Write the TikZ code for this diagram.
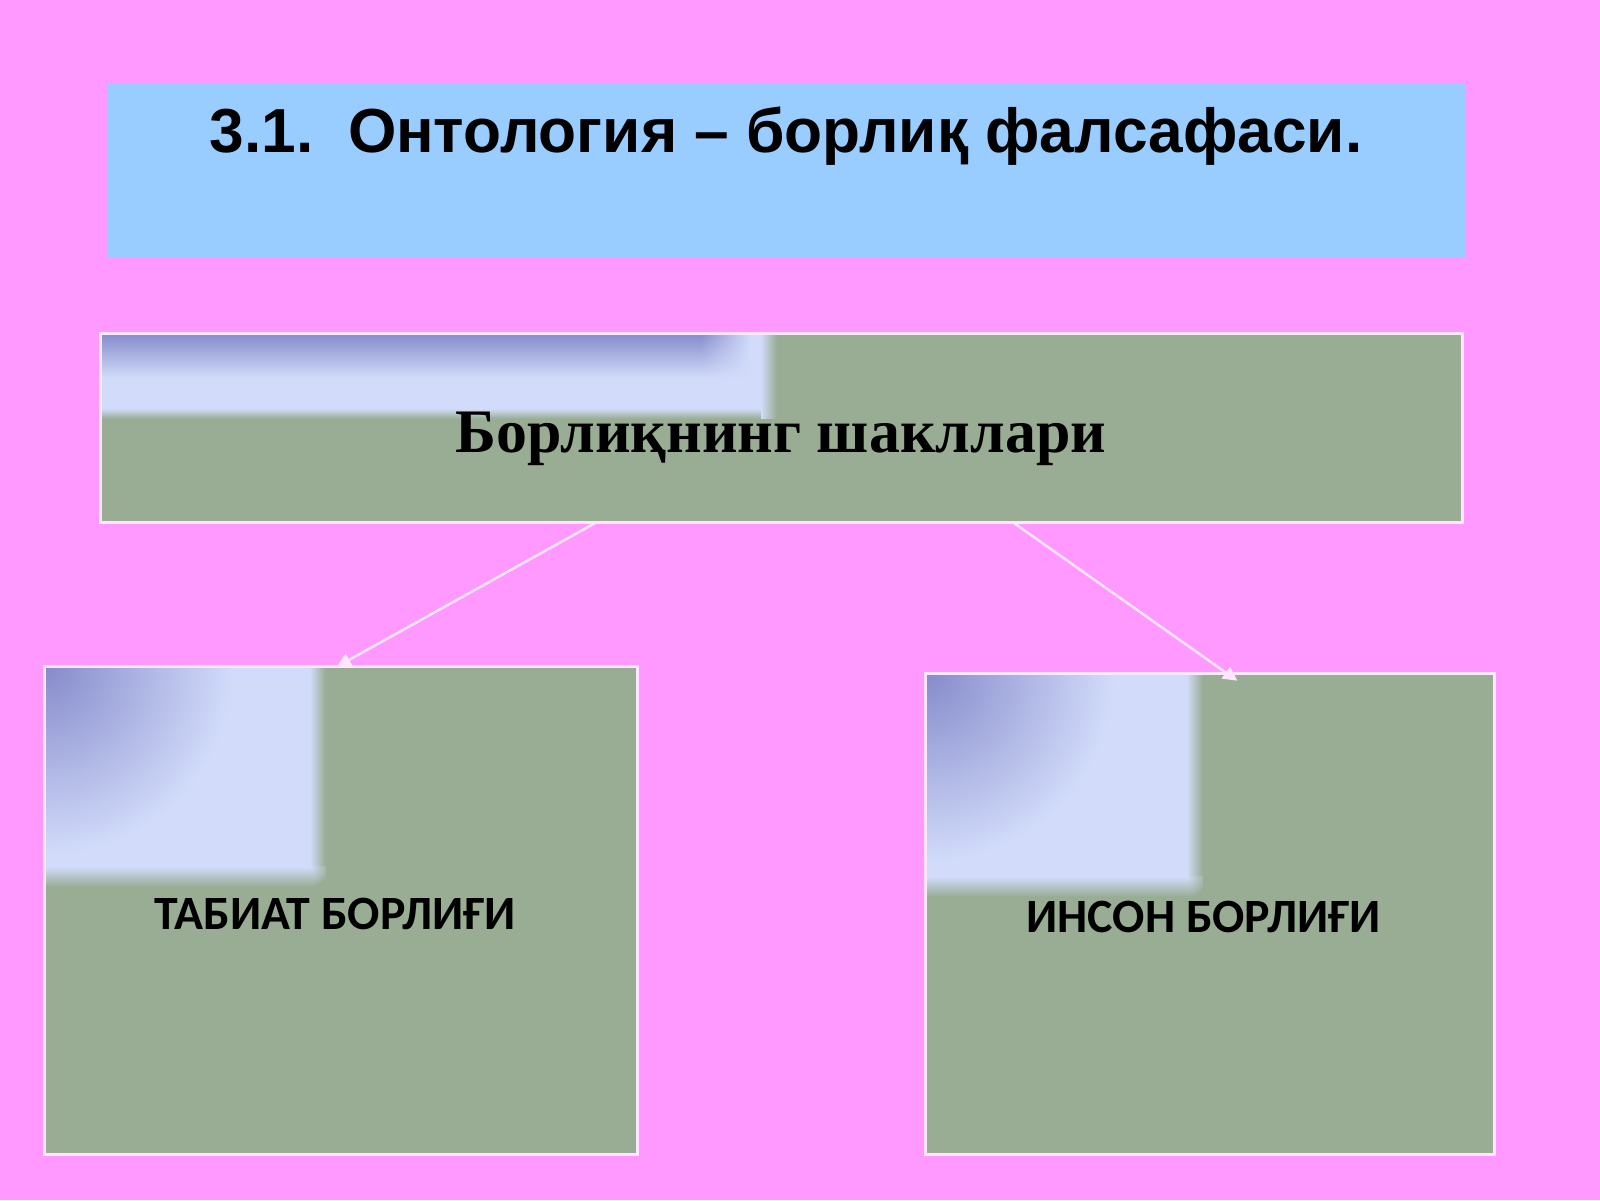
\documentclass[tikz,border=0pt]{standalone}
\usepackage{fontspec}
\setmainfont{Liberation Serif}
\newfontfamily\headfont{Liberation Sans}
\newfontfamily\boxfont{Carlito}
\usetikzlibrary{positioning,arrows.meta,calc,fadings}
\definecolor{slidepink}{HTML}{FF99FF}
\definecolor{skyblue}{HTML}{99CCFF}
\definecolor{sage}{HTML}{98AD94}
\definecolor{lilacpale}{HTML}{D2DCFA}
\definecolor{lilacdeep}{HTML}{868BCB}
\tikzset{every picture/.style={line width=0.75pt}}
\tikzset{
  formbox/.style={fill=sage, inner sep=0pt},
  boxline/.style={draw=white!75!slidepink, line width=0.8pt},
  link/.style={-{Triangle[length=4pt,width=4pt]}, color=white!75!slidepink, line width=0.7pt},
}
% lilac corner patch: #1 box node, #2 width, #3 height
\newcommand\lilac[3]{%
  \fill[lilacpale] (#1.north west) rectangle ++({#2-0.16},{-#3+0.2});
  \fill[lilacpale, path fading=east] ($(#1.north west)+({#2-0.16},0)$) rectangle ++(0.16,{-#3+0.2});
  \fill[lilacpale, path fading=south] ($(#1.north west)+(0,{-#3+0.2})$) rectangle ++({#2-0.16},-0.2);
  \begin{scope}
    \clip ($(#1.north west)+({#2-0.16},{-#3+0.2})$) rectangle ++(0.16,-0.2);
    \shade[inner color=lilacpale, outer color=sage] ($(#1.north west)+({#2-0.16},{-#3+0.2})$) circle (0.2);
  \end{scope}
  \begin{scope}
    \clip (#1.north west) rectangle ++({#2-0.2},{-#3+0.2});
    \shade[inner color=lilacdeep, outer color=lilacpale] (#1.north west) circle (1.9);
  \end{scope}}

\begin{document}
\begin{tikzpicture}
\fill[slidepink] (0,0) rectangle (16,12);
\useasboundingbox (0,0) rectangle (16,12);

% title bar
\node[fill=skyblue, inner sep=0pt, minimum width=13.59cm, minimum height=1.74cm] (head) at (7.865,10.29) {};
\node[anchor=base] (title) at (7.86,10.47) {\headfont\bfseries\fontsize{17.7}{20}\selectfont 3.1.\ \ Онтология – борлиқ фалсафаси.};

% boxes
\node[formbox, minimum width=13.59cm, minimum height=1.86cm] (forms) at (7.815,7.72) {};
\node[formbox, minimum width=5.90cm, minimum height=4.85cm] (nature) at (3.41,2.895) {};
\node[formbox, minimum width=5.66cm, minimum height=4.78cm] (human) at (12.10,2.86) {};

% lilac corners
\fill[lilacpale] (forms.north west) rectangle ++(6.6,-0.75);
\fill[lilacpale, path fading=east] ($(forms.north west)+(6.6,0)$) rectangle ++(0.16,-0.85);
\fill[lilacpale, path fading=south] ($(forms.north west)+(0,-0.75)$) rectangle ++(6.6,-0.1);
\shade[top color=lilacdeep, bottom color=lilacpale] (forms.north west) rectangle ++(6.0,-0.45);
\shade[top color=lilacdeep, bottom color=lilacpale, path fading=east] ($(forms.north west)+(6.0,0)$) rectangle ++(0.5,-0.45);
\lilac{nature}{2.81}{2.2}
\lilac{human}{2.77}{2.23}
\foreach \b in {forms,nature,human}
  \draw[boxline] (\b.south west) rectangle (\b.north east);

% labels
\node[anchor=base] (formstext) at (7.81,7.48) {\bfseries\fontsize{17.6}{20}\selectfont Борлиқнинг шакллари};
\node[anchor=base] (naturetext) at (3.35,2.71) {\boxfont\bfseries\fontsize{13.6}{16}\selectfont ТАБИАТ БОРЛИҒИ};
\node[anchor=base] (humantext) at (12.035,2.68) {\boxfont\bfseries\fontsize{13.6}{16}\selectfont ИНСОН БОРЛИҒИ};

% arrows
\coordinate (fromA) at ($(forms.south west)!0.364!(forms.south east)$);
\coordinate (fromB) at ($(forms.south west)!0.670!(forms.south east)$);
\coordinate (toA) at ($(nature.north west)!0.493!(nature.north east)$);
\coordinate (toB) at ($(human.north west)!0.548!(human.north east)+(0,-0.07)$);
\draw[link] (fromA) -- (toA);
\draw[link] (fromB) -- (toB);
\end{tikzpicture}
\end{document}
